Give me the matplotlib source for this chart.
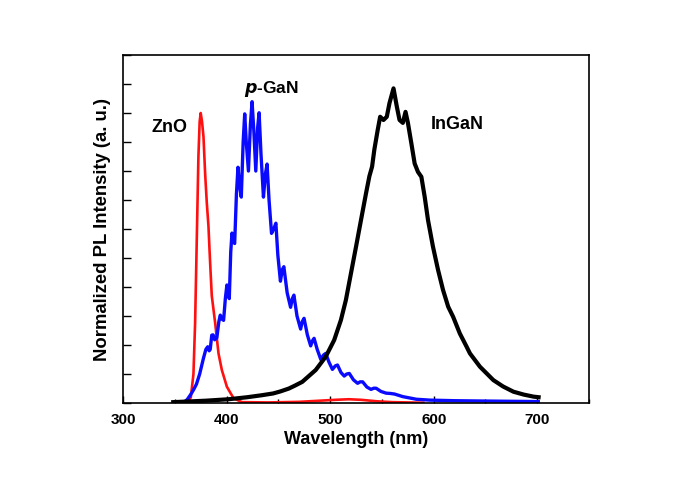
import matplotlib
matplotlib.use("Agg")
import matplotlib.pyplot as plt
from matplotlib.ticker import MultipleLocator, NullFormatter

plt.rcParams['font.family'] = ['Liberation Sans', 'DejaVu Sans']
plt.rcParams['font.weight'] = 'bold'

# ---------------------------------------------------------------- data
zno_wl = [360, 363, 365.5, 368, 369.6, 371.2, 372.8, 374, 375, 376.3, 377.7, 379.3, 380.9,
          382.5, 383.5, 384.3, 385.7, 389, 392.2, 395.4, 400.3, 406.8, 415, 440, 470, 490,
          505, 518, 530, 545, 560, 590]
zno_int = [0.0, 0.005, 0.02, 0.10, 0.275, 0.56, 0.85, 0.97, 1.0, 0.97, 0.918, 0.79, 0.69,
           0.61, 0.53, 0.47, 0.37, 0.275, 0.171, 0.114, 0.056, 0.016, 0.003, 0.002, 0.004,
           0.008, 0.011, 0.013, 0.011, 0.006, 0.003, 0.001]

pgan_wl = [358.3, 362, 365.1, 368, 370.9, 374, 377.7, 380, 381.8, 383.2, 384.2, 385.7, 387,
           388.5, 390.6, 392.5, 393.9, 395.3, 397.1, 398.8, 400.3, 401.5, 402.6, 404, 405.2,
           406.5, 407.8, 409.5, 411.0, 412.5, 414.2, 416, 417.5, 419, 421.1, 423, 424.6,
           426.3, 428.2, 430, 431.4, 433.2, 435.6, 437.5, 439.1, 441, 443.4, 445.5, 447.6,
           449.5, 452.0, 453.8, 455.3, 458.5, 461.8, 463.5, 465.0, 468, 471.5, 473, 474.8,
           478, 481.2, 483, 484.5, 487.5, 491.0, 493.5, 495.7, 499, 502.2, 505, 507.1,
           510.5, 513.6, 516, 518.5, 522.5, 526.5, 529, 531.4, 535.5, 539.5, 542, 544.4,
           549, 554.1, 558, 562.1, 570.2, 583.2, 596.1, 620, 644.7, 701]
pgan_int = [0.001, 0.012, 0.028, 0.045, 0.065, 0.10, 0.155, 0.185, 0.194, 0.180, 0.185,
            0.234, 0.235, 0.218, 0.225, 0.28, 0.303, 0.29, 0.285, 0.36, 0.407, 0.375, 0.36,
            0.52, 0.586, 0.56, 0.55, 0.72, 0.813, 0.75, 0.71, 0.90, 0.997, 0.90, 0.80, 0.96,
            1.039, 0.94, 0.80, 0.95, 1.001, 0.86, 0.71, 0.79, 0.824, 0.70, 0.585, 0.60,
            0.620, 0.51, 0.42, 0.46, 0.470, 0.38, 0.33, 0.36, 0.372, 0.30, 0.255, 0.28,
            0.292, 0.235, 0.197, 0.215, 0.223, 0.185, 0.150, 0.165, 0.171, 0.14, 0.116,
            0.128, 0.131, 0.105, 0.093, 0.10, 0.102, 0.08, 0.068, 0.073, 0.073, 0.055,
            0.047, 0.051, 0.051, 0.04, 0.034, 0.033, 0.031, 0.022, 0.013, 0.010, 0.008,
            0.007, 0.005]

ingan_wl = [348.5, 380, 401.9, 420, 434.3, 445, 452, 460.2, 466, 473.1, 486.1, 495.8, 503.9,
            510.4, 515.2, 520.1, 525.0, 529.8, 534.7, 537.9, 540.5, 542.7, 545.9, 548.3,
            551.5, 554.7, 557.3, 561.2, 564.4, 567.0, 570.2, 572.8, 575.1, 578.4, 581.6,
            584.8, 588.1, 591.3, 594.5, 599.3, 604.2, 609.0, 614.0, 618.8, 625.2, 631.8,
            635.0, 644.7, 657.6, 667, 677.0, 687, 696.4, 701.3]
ingan_int = [0.003, 0.008, 0.013, 0.020, 0.027, 0.033, 0.040, 0.050, 0.060, 0.073, 0.114,
             0.160, 0.217, 0.286, 0.355, 0.447, 0.539, 0.631, 0.724, 0.782, 0.815, 0.874,
             0.941, 0.987, 0.976, 0.987, 1.034, 1.085, 1.022, 0.976, 0.966, 1.004, 0.966,
             0.896, 0.826, 0.797, 0.780, 0.711, 0.631, 0.539, 0.459, 0.390, 0.332, 0.297,
             0.240, 0.194, 0.171, 0.125, 0.079, 0.057, 0.039, 0.029, 0.022, 0.020]

x_ticks = [300, 400, 500, 600, 700]

# ---------------------------------------------------------------- figure
fig = plt.figure(figsize=(6.85, 4.83), dpi=100)
ax = fig.add_axes([0.1796, 0.1656, 0.6803, 0.7205])

ax.plot(zno_wl, zno_int, color='#ff1010', lw=1.9, solid_joinstyle='round')
ax.plot(pgan_wl, pgan_int, color='#0a0aff', lw=2.4, solid_joinstyle='round')
ax.plot(ingan_wl, ingan_int, color='black', lw=3.0, solid_joinstyle='round')

# labels on the curves
ax.text(345.1, 0.95, 'ZnO', fontsize=13, fontweight='bold', ha='center', va='center')
ax.text(443.7, 1.083, r'$\bfit{p}$-GaN', fontsize=12.5, fontweight='bold', ha='center', va='center')
ax.text(622.5, 0.962, 'InGaN', fontsize=13, fontweight='bold', ha='center', va='center')

ax.set_xlim(300, 750)
ax.set_ylim(0, 1.2)
ax.set_xticks(x_ticks)
ax.xaxis.set_minor_locator(MultipleLocator(50))
ax.yaxis.set_major_locator(MultipleLocator(0.1))
ax.yaxis.set_major_formatter(NullFormatter())

ax.tick_params(axis='x', which='major', direction='in', length=5, width=1, labelsize=11, pad=7)
ax.tick_params(axis='x', which='minor', direction='in', length=3, width=1)
ax.tick_params(axis='y', which='major', direction='in', length=6, width=1)
for lab in ax.get_xticklabels():
    lab.set_fontweight('bold')
for sp in ax.spines.values():
    sp.set_linewidth(1.2)

ax.set_xlabel('Wavelength (nm)', fontsize=13, fontweight='bold', labelpad=3)
ax.set_ylabel('Normalized PL Intensity (a. u.)', fontsize=13.3, fontweight='bold', labelpad=5)

fig.savefig('out.png', dpi=100)
